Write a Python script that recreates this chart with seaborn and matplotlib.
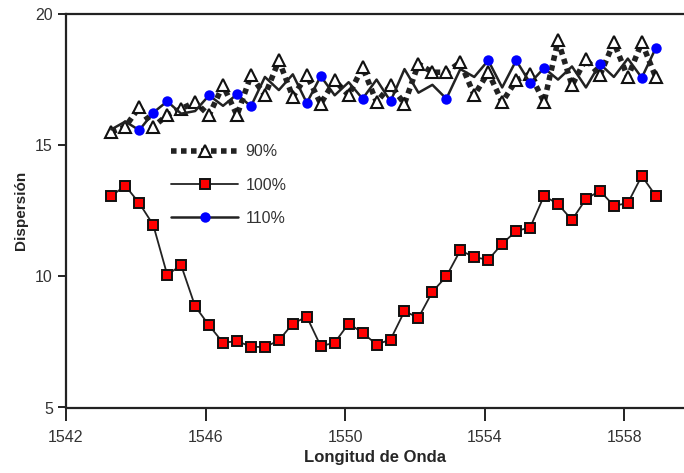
import numpy as np
import pandas as pd
import matplotlib
matplotlib.use("Agg")
import matplotlib.pyplot as plt
import seaborn as sns

# ---- data ----
wavelength = [1543.3, 1543.7, 1544.1, 1544.5, 1544.9, 1545.3, 1545.7, 1546.1,
              1546.5, 1546.9, 1547.3, 1547.7, 1548.1, 1548.5, 1548.9, 1549.3,
              1549.7, 1550.1, 1550.5, 1550.9, 1551.3, 1551.7, 1552.1, 1552.5,
              1552.9, 1553.3, 1553.7, 1554.1, 1554.5, 1554.9, 1555.3, 1555.7,
              1556.1, 1556.5, 1556.9, 1557.3, 1557.7, 1558.1, 1558.5, 1558.9]

disp_90 = [15.5, 15.7, 16.45, 15.7, 16.14, 16.39, 16.64, 16.14,
           17.28, 16.14, 17.66, 16.9, 18.23, 16.84, 17.66, 16.58,
           17.47, 16.9, 17.97, 16.64, 17.28, 16.58, 18.1, 17.78,
           17.78, 18.16, 16.9, 17.78, 16.64, 17.47, 17.72, 16.64,
           18.99, 17.28, 18.29, 17.66, 18.92, 17.59, 18.92, 17.59]

disp_100 = [13.07, 13.45, 12.79, 11.96, 10.06, 10.42, 8.86, 8.13,
            7.47, 7.53, 7.32, 7.30, 7.56, 8.20, 8.46, 7.34,
            7.47, 8.20, 7.85, 7.40, 7.59, 8.67, 8.42, 9.41,
            10.00, 10.99, 10.73, 10.63, 11.24, 11.73, 11.86, 13.07,
            12.75, 12.15, 12.95, 13.26, 12.69, 12.79, 13.83, 13.07]

disp_110 = [15.6, 15.9, 15.57, 16.24, 16.67, 16.2, 16.3, 16.90,
            16.5, 16.94, 16.48, 17.6, 17.1, 17.7, 16.61, 17.63,
            16.9, 17.4, 16.77, 17.5, 16.67, 17.9, 17.0, 17.3,
            16.77, 17.9, 17.6, 18.23, 17.2, 18.23, 17.37, 17.94,
            17.5, 18.0, 17.2, 18.10, 17.6, 18.3, 17.57, 18.70]
# indices of the 110% points that carry a blue marker
marked_110 = [2, 3, 4, 7, 9, 10, 14, 15, 18, 20, 24, 27, 29, 30, 31, 35, 38, 39]

labels = ["90%", "100%", "110%"]
x_ticks = [1542, 1546, 1550, 1554, 1558]
y_ticks = [5, 10, 15, 20]

# ---- plot ----
sns.set_style("ticks")
plt.rcParams['font.family'] = ['Liberation Sans', 'DejaVu Sans']

fig = plt.figure(figsize=(6.84, 4.73), dpi=100)
ax = fig.add_axes([66 / 684, 1 - 407.5 / 473, 1 - 66 / 684, (407.5 - 14) / 473])

sns.lineplot(x=wavelength, y=disp_110, ax=ax, color="#222222", lw=1.8,
             marker="o", markersize=7.5, markerfacecolor="#0000ff",
             markeredgewidth=0, markevery=marked_110, label=labels[2],
             zorder=3)
sns.lineplot(x=wavelength, y=disp_90, ax=ax, color="#222222", lw=4,
             linestyle=(0, (1, 0.8)), dash_capstyle="butt",
             marker="^", markersize=8, markerfacecolor="white",
             markeredgecolor="#111111", markeredgewidth=1.5,
             label=labels[0], zorder=2)
sns.lineplot(x=wavelength, y=disp_100, ax=ax, color="#222222", lw=1.3,
             marker="s", markersize=7, markerfacecolor="#ff0000",
             markeredgecolor="#111111", markeredgewidth=1.4,
             label=labels[1], zorder=3)

ax.set_xlim(1542, 1559.71)
ax.set_ylim(5, 20)
ax.set_xticks(x_ticks)
ax.set_yticks(y_ticks)
ax.tick_params(axis="x", bottom=True, direction="out", length=9, width=1.4,
               labelsize=11.5, colors="#222222", labelcolor="#333333", pad=7)
ax.tick_params(axis="y", left=True, direction="out", length=6, width=1.4,
               labelsize=11.5, colors="#222222", labelcolor="#333333")
for s in ["left", "bottom", "top"]:
    ax.spines[s].set_visible(True)
    ax.spines[s].set_linewidth(1.6)
    ax.spines[s].set_color("#222222")
ax.spines["right"].set_visible(False)

ax.set_xlabel("Longitud de Onda", fontsize=12, fontweight="bold",
              family=['Liberation Sans Narrow', 'Liberation Sans', 'DejaVu Sans'],
              labelpad=4)
ax.set_ylabel("Dispersión", fontsize=11, fontweight="bold",
              family=['Liberation Sans Narrow', 'Liberation Sans', 'DejaVu Sans'],
              labelpad=5)

handles, labs = ax.get_legend_handles_labels()
order = [labs.index(l) for l in labels]
leg = ax.legend([handles[i] for i in order], [labs[i] for i in order],
                loc="upper left", bbox_to_anchor=(0.16, 0.685), frameon=False,
                fontsize=11.5, handlelength=4.2, handletextpad=0.45,
                labelspacing=1.15, borderaxespad=0)
for t in leg.get_texts():
    t.set_color("#333333")

fig.savefig("out.png", dpi=100)
